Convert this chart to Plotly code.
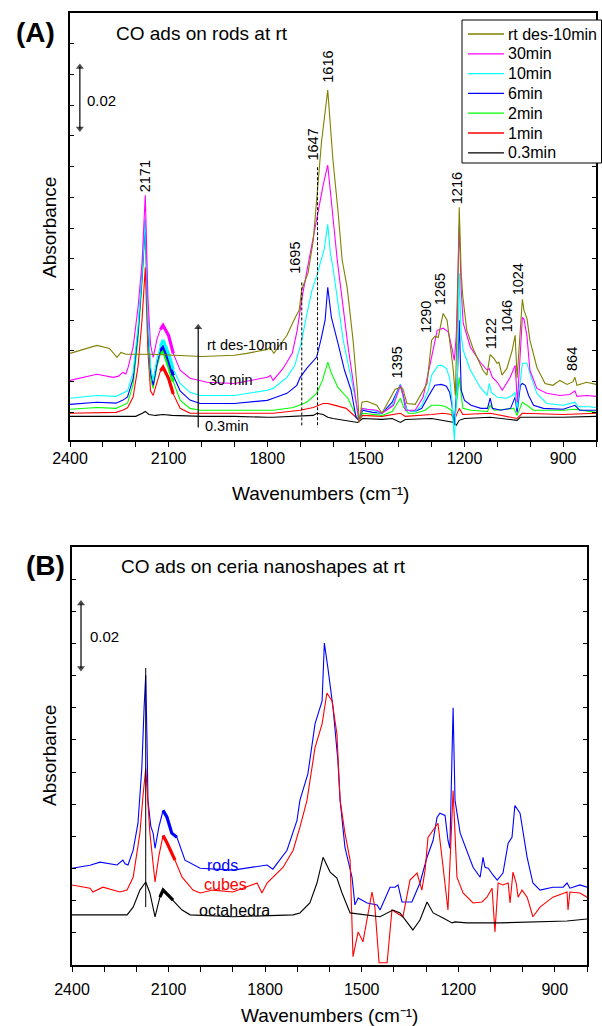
import plotly.graph_objects as go

# ---------------- Panel A: CO adsorption on CeO2 rods at rt (absorbance in mAbs) ----------------
W_RTDES = [2400, 2318, 2280, 2257, 2245, 2230, 2150, 2100, 2000, 1900, 1862, 1800, 1792, 1780, 1740, 1716, 1703,
           1695, 1676, 1660, 1647, 1635, 1616, 1600, 1585, 1572, 1557, 1539, 1526, 1520, 1512, 1497, 1467, 1451,
           1411, 1395, 1388, 1375, 1350, 1314, 1300, 1290, 1280, 1265, 1253, 1244, 1235, 1228, 1222, 1216, 1210,
           1205, 1193, 1174, 1144, 1132, 1126, 1122, 1110, 1101, 1095, 1086, 1071, 1055, 1046, 1040, 1024, 1019,
           1010, 1001, 980, 955, 931, 910, 888, 870, 864, 858, 828, 800]
A_RTDES = [19.2, 21.8, 20.8, 17.9, 19.5, 18.9, 18.9, 18.6, 18.2, 18.6, 19.2, 20.5, 21.2, 19.2, 25.1, 30.6, 33.2,
           40.0, 45.3, 56.0, 72.0, 88.0, 104.9, 82.0, 65.8, 49.5, 40.7, 23.5, 7.2, -3.3, 3.3, 3.6, 2.3, -0.3,
           7.5, 8.1, 7.8, 2.9, 2.6, 9.4, 23.5, 24.8, 24.4, 32.2, 30.0, 22.5, 14.7, 5.5, 30.0, 66.8, 45.0,
           37.5, 26.7, 20.8, 13.7, 12.1, 16.5, 18.8, 17.5, 16.0, 16.3, 12.1, 14.3, 20.2, 25.1, 11.1, 36.8, 33.2,
           30.6, 23.5, 14.7, 9.4, 8.8, 10.4, 9.1, 10.0, 11.4, 8.8, 9.8, 9.1]

W_30 = [2400, 2318, 2269, 2254, 2239, 2230, 2223, 2208, 2193, 2181, 2171, 2163, 2155, 2147, 2135, 2125, 2117, 2100,
        2086, 2065, 2035, 1983, 1900, 1800, 1790, 1782, 1752, 1724, 1709, 1694, 1675, 1660, 1647, 1630, 1616, 1605,
        1587, 1570, 1555, 1540, 1530, 1521, 1512, 1497, 1467, 1451, 1416, 1395, 1385, 1380, 1350, 1326, 1304, 1283,
        1265, 1249, 1237, 1231, 1225, 1216, 1210, 1204, 1182, 1152, 1131, 1125, 1115, 1100, 1085, 1061, 1046, 1039,
        1024, 1019, 1010, 1001, 980, 950, 910, 880, 864, 858, 828, 800]
A_30 = [10.4, 12.4, 11.4, 11.7, 13.0, 12.5, 14.7, 21.2, 34.2, 48.5, 70.7, 37.5, 22.0, 17.9, 24.0, 27.0, 28.3, 25.0,
        19.2, 13.7, 11.1, 9.8, 9.4, 11.4, 12.0, 10.4, 14.3, 19.2, 26.7, 37.5, 48.5, 57.0, 64.0, 74.0, 80.5, 68.0,
        49.5, 35.0, 22.0, 11.0, 4.0, -3.0, 1.3, 1.0, 0.7, -0.3, 2.3, 8.8, 5.0, 0.7, 0.7, 4.9, 16.0, 26.7,
        27.4, 26.1, 20.2, 16.9, 25.0, 60.9, 40.0, 29.0, 21.2, 16.3, 13.7, 14.3, 11.4, 9.8, 7.2, 11.4, 15.3, 3.3,
        30.9, 30.3, 24.8, 13.7, 7.8, 6.2, 5.5, 5.8, 7.0, 5.2, 5.5, 5.2]

W_10 = [2400, 2318, 2260, 2240, 2225, 2208, 2193, 2181, 2171, 2163, 2155, 2147, 2135, 2125, 2117, 2100, 2086, 2065,
        2035, 2004, 1900, 1800, 1782, 1740, 1716, 1706, 1697, 1679, 1664, 1648, 1635, 1627, 1616, 1608, 1600, 1587,
        1569, 1548, 1529, 1521, 1510, 1480, 1451, 1420, 1400, 1395, 1385, 1375, 1350, 1330, 1310, 1300, 1280, 1270,
        1255, 1245, 1238, 1231, 1222, 1216, 1210, 1204, 1182, 1152, 1131, 1125, 1118, 1100, 1071, 1055, 1046, 1040,
        1024, 1010, 1001, 980, 950, 900, 864, 855, 820, 800]
A_10 = [4.6, 5.5, 5.2, 6.2, 7.0, 13.0, 28.0, 45.0, 63.2, 30.0, 15.0, 10.4, 18.0, 21.5, 23.5, 19.0, 14.0, 9.4,
        6.5, 5.5, 5.5, 7.2, 7.8, 11.4, 15.3, 19.2, 22.5, 32.2, 39.7, 45.0, 50.0, 53.0, 61.2, 52.0, 47.0, 37.5,
        23.5, 12.7, 2.9, -2.6, 1.3, 0.7, -0.3, 2.3, 7.8, 9.1, 3.9, 0.7, 0.3, 2.3, 7.2, 12.1, 15.3, 15.3,
        14.3, 11.1, 3.9, -9.1, 10.0, 45.3, 25.0, 20.2, 13.7, 8.1, 5.5, 9.4, 6.5, 4.9, 4.6, 5.5, 6.5, 1.3,
        16.0, 16.0, 12.7, 6.2, 2.9, 2.3, 3.3, 1.8, 1.8, 1.6]

W_6 = [2400, 2318, 2260, 2240, 2225, 2208, 2193, 2181, 2171, 2163, 2155, 2147, 2135, 2125, 2117, 2100, 2086, 2065,
       2035, 2004, 1900, 1800, 1782, 1740, 1710, 1700, 1680, 1650, 1637, 1624, 1616, 1605, 1585, 1565, 1545, 1530,
       1521, 1510, 1480, 1451, 1420, 1400, 1395, 1385, 1375, 1350, 1330, 1310, 1290, 1270, 1255, 1245, 1238, 1231,
       1222, 1216, 1210, 1200, 1180, 1150, 1130, 1122, 1115, 1090, 1060, 1050, 1046, 1040, 1030, 1024, 1015, 1005,
       990, 960, 900, 864, 850, 800]
A_6 = [2.6, 3.3, 3.0, 3.9, 5.0, 11.0, 26.0, 44.0, 62.5, 28.0, 13.0, 8.8, 16.0, 20.0, 21.8, 17.0, 12.0, 7.0,
       4.0, 2.9, 2.9, 3.9, 4.6, 6.2, 8.8, 11.4, 14.3, 17.9, 23.5, 30.0, 40.7, 31.0, 22.5, 13.7, 7.2, -1.6,
       -2.6, 0.7, 0.0, -0.3, 3.3, 7.8, 9.1, 4.6, 0.7, 0.3, 1.3, 5.2, 8.8, 9.1, 8.5, 6.5, 2.3, -4.2,
       10.4, 30.0, 7.2, 3.9, 2.3, 1.3, 1.3, 4.6, 1.3, 0.7, 1.3, 3.9, 4.9, 0.0, 8.8, 9.4, 8.8, 5.5,
       2.3, 1.3, 1.0, 2.3, 0.7, 0.7]

W_2 = [2400, 2318, 2260, 2240, 2225, 2208, 2193, 2181, 2171, 2163, 2155, 2147, 2135, 2125, 2117, 2100, 2086, 2065,
       2035, 2004, 1900, 1800, 1782, 1720, 1680, 1650, 1632, 1616, 1605, 1585, 1555, 1530, 1521, 1510, 1451, 1420,
       1395, 1385, 1370, 1350, 1320, 1300, 1280, 1260, 1240, 1231, 1216, 1205, 1180, 1130, 1122, 1110, 1050, 1040,
       1024, 1010, 990, 900, 864, 800]
A_2 = [1.0, 1.6, 1.3, 2.3, 3.0, 9.0, 24.0, 42.0, 61.6, 26.0, 11.0, 7.8, 15.0, 19.0, 20.5, 15.0, 10.0, 4.0,
       1.3, 0.7, 0.7, 0.7, 0.7, 1.6, 3.3, 6.2, 10.4, 16.3, 12.7, 8.1, 4.6, -1.0, -2.6, -0.3, -1.0, 0.3,
       4.6, 1.6, -0.3, -0.3, 0.7, 2.3, 2.3, 2.0, 0.7, -4.2, 11.4, 1.3, 0.7, 0.3, 2.3, 0.7, 1.3, -1.0,
       3.3, 2.3, 0.7, 0.7, 1.0, 0.0]

W_1 = [2400, 2318, 2260, 2240, 2225, 2208, 2193, 2181, 2171, 2163, 2155, 2147, 2135, 2125, 2117, 2100, 2086, 2065,
       2035, 2004, 1900, 1800, 1782, 1700, 1660, 1630, 1616, 1605, 1560, 1530, 1521, 1510, 1451, 1395, 1380, 1300,
       1265, 1240, 1231, 1216, 1205, 1122, 1040, 1024, 900, 800]
A_1 = [-0.3, 0.0, 0.0, 0.7, 1.5, 5.0, 15.0, 30.0, 47.2, 20.0, 7.0, 5.5, 10.0, 13.5, 14.7, 11.0, 6.0, 1.3,
       -0.3, -0.3, -0.3, -0.3, -0.3, 0.7, 1.6, 2.9, 2.9, 2.6, 1.3, -1.6, -2.6, -1.0, -1.3, -0.3, -1.3, -0.7,
       -0.3, -0.7, -2.6, 1.3, -0.7, -0.3, -2.0, -0.3, -0.7, -0.3]

W_03 = [2400, 2200, 2180, 2171, 2160, 2140, 2117, 2090, 2000, 1900, 1800, 1782, 1660, 1649, 1630, 1616, 1600, 1560,
        1525, 1510, 1451, 1420, 1395, 1380, 1300, 1231, 1225, 1216, 1200, 1122, 1040, 1030, 900, 800]
A_03 = [-1.3, -1.3, -0.3, 0.3, -0.7, -1.0, -0.7, -1.0, -1.3, -1.3, -1.6, -1.6, -1.0, -0.3, -0.7, -1.6, -2.0, -2.6,
        -3.3, -2.0, -2.3, -2.0, -3.3, -2.3, -2.0, -3.3, -4.2, -2.6, -2.0, -1.6, -2.6, -1.6, -1.6, -1.3]

SERIES_A_NAMES = ["0.3min", "1min", "2min", "6min", "10min", "30min", "rt des-10min"]
SERIES_A_W = [W_03, W_1, W_2, W_6, W_10, W_30, W_RTDES]
SERIES_A_ABS = [A_03, A_1, A_2, A_6, A_10, A_30, A_RTDES]
SERIES_A_COLORS = ["#000000", "#FF0000", "#00FF00", "#0000FF", "#00FFFF", "#FF00FF", "#808000"]

PEAKS_A = ["2171", "1695", "1647", "1616", "1395", "1290", "1265", "1216", "1122", "1046", "1024", "864"]
GUIDE_LINES_A = [1695, 1647]  # dashed markers for the 1695/1647 shoulders

# ---------------- Panel B: CO adsorption on ceria nanoshapes at rt ----------------
W_RODS = [2400, 2344, 2313, 2280, 2260, 2242, 2235, 2226, 2210, 2195, 2183, 2176, 2171, 2167, 2164, 2155, 2148, 2142,
          2130, 2117, 2105, 2090, 2074, 2049, 2002, 1900, 1794, 1776, 1732, 1701, 1692, 1667, 1645, 1623, 1616, 1605,
          1589, 1574, 1567, 1552, 1530, 1521, 1511, 1483, 1452, 1443, 1412, 1396, 1387, 1375, 1344, 1319, 1297, 1278,
          1266, 1257, 1241, 1232, 1226, 1216, 1210, 1194, 1173, 1154, 1132, 1123, 1117, 1107, 1092, 1079, 1061, 1045,
          1033, 1024, 1008, 986, 968, 946, 906, 874, 862, 853, 822, 800]
A_RODS = [20.1, 21.0, 22.0, 21.5, 21.1, 22.6, 21.5, 21.1, 25.7, 34.1, 51.4, 70.0, 80.2, 60.0, 41.2, 33.0, 31.0, 26.3,
          33.0, 38.1, 36.0, 31.0, 29.7, 22.6, 20.1, 19.5, 21.1, 19.8, 25.7, 35.0, 41.2, 49.5, 65.0, 72.1, 90.1, 82.4,
          70.0, 53.6, 41.2, 26.6, 17.3, 8.7, 10.8, 9.3, 8.7, 7.1, 14.2, 14.2, 14.9, 9.6, 9.6, 15.5, 23.5, 28.8,
          35.9, 37.2, 36.5, 28.8, 26.3, 70.0, 41.2, 31.0, 25.7, 20.4, 17.3, 23.5, 20.4, 20.1, 18.0, 16.4, 18.6, 27.9,
          29.7, 39.6, 37.2, 23.5, 15.5, 13.3, 14.2, 14.2, 15.5, 13.9, 14.9, 14.2]

W_CUBES = [2400, 2344, 2335, 2304, 2251, 2229, 2210, 2189, 2180, 2171, 2167, 2158, 2142, 2130, 2117, 2105, 2080, 2058,
           2024, 2002, 1962, 1900, 1825, 1810, 1794, 1763, 1744, 1713, 1692, 1670, 1645, 1623, 1608, 1592, 1577, 1567,
           1552, 1536, 1527, 1511, 1496, 1468, 1459, 1446, 1421, 1406, 1390, 1372, 1350, 1328, 1313, 1303, 1294, 1278,
           1263, 1247, 1232, 1216, 1204, 1185, 1154, 1126, 1111, 1095, 1086, 1076, 1061, 1045, 1039, 1030, 1020, 1014,
           1002, 986, 968, 946, 906, 862, 859, 853, 822, 800]
A_CUBES = [14.9, 13.9, 12.7, 14.2, 12.7, 13.3, 17.3, 31.0, 42.0, 51.1, 45.0, 31.0, 15.8, 24.0, 30.3, 28.0, 22.6, 17.3,
           13.3, 12.4, 13.3, 12.7, 15.5, 12.4, 15.5, 18.6, 20.4, 25.7, 32.8, 41.2, 57.6, 65.0, 74.6, 72.1, 61.9, 41.2,
           31.0, 22.6, -7.4, 0.3, -2.8, 12.7, 8.0, -9.3, -9.3, 7.1, 6.2, 5.0, 16.4, 18.6, 13.3, 19.5, 29.7, 31.9,
           34.1, 20.4, 7.1, 44.3, 17.3, 12.4, 9.3, 9.6, 11.1, 13.9, 0.3, 15.5, 14.9, 15.5, 9.3, 18.9, 15.5, 11.1,
           13.3, 11.1, 5.0, 8.0, 11.1, 12.7, 7.1, 12.7, 12.4, 11.1]

W_OCTA = [2400, 2229, 2210, 2189, 2171, 2158, 2142, 2127, 2117, 2086, 2058, 2033, 1900, 1713, 1692, 1661, 1639, 1620,
          1598, 1577, 1561, 1536, 1483, 1443, 1403, 1381, 1341, 1319, 1297, 1278, 1247, 1219, 1210, 1173, 1070, 862,
          800]
A_OCTA = [5.6, 5.6, 8.0, 13.3, 15.8, 12.4, 5.0, 11.1, 13.3, 10.2, 7.1, 5.6, 5.0, 5.6, 6.2, 9.3, 15.5, 23.5,
          18.9, 17.0, 12.4, 6.2, 5.6, 5.0, 7.1, 6.2, 0.9, 4.0, 9.6, 6.2, 4.6, 3.1, 3.4, 3.1, 3.1, 3.7,
          4.3]

SERIES_B_NAMES = ["rods", "cubes", "octahedra"]
SERIES_B_W = [W_RODS, W_CUBES, W_OCTA]
SERIES_B_ABS = [A_RODS, A_CUBES, A_OCTA]
SERIES_B_COLORS = ["#0000FF", "#FF0000", "#000000"]

MABS = 1e-3          # stored values are in milli-absorbance units
SCALE_BAR = 0.02     # absorbance scale bar
X_MAJOR = [2400, 2100, 1800, 1500, 1200, 900]

FONT = "Liberation Sans, Arial, Helvetica, sans-serif"
W_PX, H_PX = 602, 1026


def px(x):
    return x / W_PX


def py(y):
    return 1 - y / H_PX


fig = go.Figure()

# gas-phase CO rotational band region, drawn heavier as in the recorded spectra
BAND = (2128, 2070)


def add_spectrum(w, a, color, name, xa, ya, band=True):
    yv = [v * MABS for v in a]
    fig.add_trace(go.Scatter(x=w, y=yv, mode="lines", name=name, showlegend=False,
                             line=dict(color=color, width=1.1), xaxis=xa, yaxis=ya,
                             hoverinfo="skip"))
    if band:
        bw = [x for x in w if BAND[1] <= x <= BAND[0]]
        by = [v for x, v in zip(w, yv) if BAND[1] <= x <= BAND[0]]
        fig.add_trace(go.Scatter(x=bw, y=by, mode="lines", showlegend=False,
                                 line=dict(color=color, width=3.2), xaxis=xa, yaxis=ya,
                                 hoverinfo="skip"))


for name, w, a, c in zip(SERIES_A_NAMES, SERIES_A_W, SERIES_A_ABS, SERIES_A_COLORS):
    add_spectrum(w, a, c, name, "x", "y", band=name not in ("0.3min", "rt des-10min"))

for name, w, a, c in zip(SERIES_B_NAMES, SERIES_B_W, SERIES_B_ABS, SERIES_B_COLORS):
    add_spectrum(w, a, c, name, "x2", "y2")


def add_arrow(xa, ya, x0, y0, y1, both):
    """Vertical arrow drawn as a line with triangular heads."""
    syms = ["triangle-down" if both else "circle", "triangle-up"]
    sizes = [7 if both else 0, 7]
    fig.add_trace(go.Scatter(x=[x0, x0], y=[y0, y1], mode="lines+markers", showlegend=False,
                             line=dict(color="black", width=1.2),
                             marker=dict(symbol=syms, size=sizes, color="black", line=dict(width=0)),
                             xaxis=xa, yaxis=ya, hoverinfo="skip"))


# ---------------- axes ----------------
axis_line = dict(showline=True, linecolor="black", linewidth=1.6, showgrid=False, zeroline=False)
tickfont = dict(family=FONT, size=16, color="black")


def xaxis(dom, anchor, standoff):
    return dict(domain=dom, anchor=anchor, range=[2400, 800], tickmode="array", tickvals=X_MAJOR,
                ticks="outside", ticklen=5, tickwidth=1.3, tickcolor="black", mirror=True,
                tickfont=tickfont, ticklabelstandoff=standoff, automargin=False,
                minor=dict(tickmode="linear", tick0=800, dtick=100, ticks="outside", ticklen=5,
                           tickwidth=1.3, tickcolor="black", showgrid=False),
                **axis_line)


def xtop(over, anchor):
    return dict(overlaying=over, anchor=anchor, side="top", range=[2400, 800], tickmode="linear",
                tick0=800, dtick=100, ticks="inside", ticklen=4, tickwidth=1.3, tickcolor="black",
                showticklabels=False, showline=False, showgrid=False, zeroline=False)


def yaxis(dom, anchor, rng, top):
    return dict(domain=dom, anchor=anchor, range=rng, tickmode="array", automargin=False,
                tickvals=[i * 0.01 for i in range(0, top + 1)], ticks="inside", ticklen=4,
                tickwidth=1.3, tickcolor="black", showticklabels=False, mirror="ticks", **axis_line)


fig.update_layout(
    width=W_PX, height=H_PX, margin=dict(l=0, r=0, t=0, b=0, autoexpand=False),
    paper_bgcolor="white", plot_bgcolor="white", showlegend=False,
    font=dict(family=FONT, color="black"),
    xaxis=xaxis([px(70), px(596)], "y", -2),
    yaxis=yaxis([py(440), py(13)], "x", [-0.009, 0.130], 13),
    xaxis3=xtop("x", "y"),
    xaxis2=xaxis([px(72), px(587)], "y2", 4),
    yaxis2=yaxis([py(965), py(547)], "x2", [-0.010, 0.120], 12),
    xaxis4=xtop("x2", "y2"),
)

ann = []
shapes = []


def text(x, y, s, size, xref="paper", yref="paper", **kw):
    d = dict(x=x, y=y, text=s, xref=xref, yref=yref, showarrow=False,
             font=dict(family=FONT, size=size, color=kw.pop("color", "black")))
    d.update(kw)
    ann.append(d)


# panel letters and titles
text(px(14), py(32), "<b>(A)</b>", 28, xanchor="left", yanchor="middle")
text(px(114), py(33), "CO ads on rods at rt", 19, xanchor="left", yanchor="middle")
text(px(24), py(565), "<b>(B)</b>", 28, xanchor="left", yanchor="middle")
text(px(119), py(566), "CO ads on ceria nanoshapes at rt", 19, xanchor="left", yanchor="middle")

# axis titles
for yc in (228, 756):
    text(px(49), py(yc), "Absorbance", 19, textangle=-90, xanchor="center", yanchor="middle")
for xc, yc in ((320, 493), (329, 1015)):
    text(px(xc), py(yc), "Wavenumbers (cm\u207b\u00b9)", 19, xanchor="center", yanchor="middle")

# legend box for the panel A time series (listed newest first)
LEG_L, LEG_T, LEG_R, LEG_B, LEG_STEP = 462, 20, 601.5, 163, 19.8
shapes.append(dict(type="rect", xref="paper", yref="paper", x0=px(LEG_L), x1=px(LEG_R),
                   y0=py(LEG_B), y1=py(LEG_T), fillcolor="white", line=dict(color="black", width=1),
                   layer="above"))
for i, (name, col) in enumerate(zip(SERIES_A_NAMES[::-1], SERIES_A_COLORS[::-1])):
    yc = 34 + i * LEG_STEP
    shapes.append(dict(type="line", xref="paper", yref="paper", x0=px(468), x1=px(504),
                       y0=py(yc), y1=py(yc), line=dict(color=col, width=1.3), layer="above"))
    text(px(506), py(yc), name, 16, xanchor="left", yanchor="middle")

# peak position labels (panel A), rotated
label_pos = {"2171": (0, 176), "1695": (-7, 258), "1647": (-5, 145), "1616": (0, 67),
             "1395": (-3, 362), "1290": (-9, 317), "1265": (-3, 289), "1216": (-2, 188),
             "1122": (1, 334), "1046": (-8, 316), "1024": (-4, 279), "864": (-3, 359)}
for lab in PEAKS_A:
    dx, yc = label_pos[lab]
    text(float(lab), py(yc), lab, 14.5, xref="x", yref="paper", textangle=-90,
         xanchor="center", yanchor="middle", xshift=dx)

# dashed guides for the 1695 and 1647 cm-1 shoulders
for wv, ytop in zip(GUIDE_LINES_A, (0.0423, 0.0798)):
    shapes.append(dict(type="line", xref="x", yref="y", x0=wv, x1=wv, y0=ytop, y1=-0.0049,
                       line=dict(color="black", width=1, dash="3px,2px")))

# time-sequence arrow with series annotations
add_arrow("x", "y", 2010, -0.0049, 0.0277, both=False)
text(1989, 0.0218, "rt des-10min", 14.5, xref="x", yref="y", xanchor="left", yanchor="middle")
text(1983, 0.0104, "30 min", 14.5, xref="x", yref="y", xanchor="left", yanchor="middle")
text(1995, -0.0046, "0.3min", 14.5, xref="x", yref="y", xanchor="left", yanchor="middle")

# absorbance scale bars
for xa, ya, x0, y0, xt, yt in (("x", "y", 2370, 0.0924, 2355, 0.1016),
                               ("x2", "y2", 2372, 0.0824, 2350, 0.0923)):
    add_arrow(xa, ya, x0, y0, y0 + SCALE_BAR, both=True)
    text(xt, yt, "0.02", 15, xref=xa, yref=ya, xanchor="left", yanchor="middle")

# panel B series labels
for lab, wx, yv, col in (("rods", 1987, 0.0211, "#0000FF"), ("cubes", 1996, 0.0149, "#FF0000"),
                         ("octahedra", 2012, 0.0071, "#000000")):
    text(wx, yv, lab, 16, xref="x2", yref="y2", xanchor="left", yanchor="middle", color=col)

# reference line at the 2171 cm-1 band in panel B
shapes.append(dict(type="line", xref="x2", yref="y2", x0=2171, x1=2171, y0=0.0080, y1=0.0824,
                   line=dict(color="black", width=1)))

fig.update_layout(annotations=ann, shapes=shapes)
fig.write_html("out.html")
